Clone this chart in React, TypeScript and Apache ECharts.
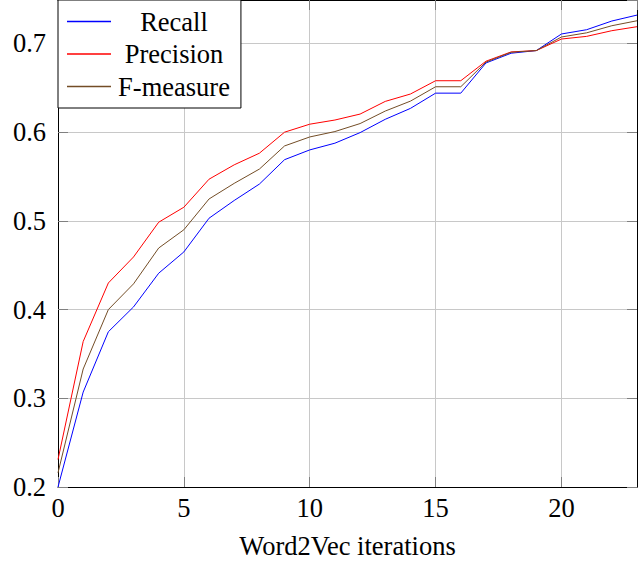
import React, { useEffect, useRef } from "react";
import * as echarts from "echarts";

const iterations = Array.from({ length: 24 }, (_, i) => i);
const recall = [0.2, 0.307, 0.375, 0.403, 0.441, 0.465, 0.503, 0.523, 0.5415, 0.569, 0.58, 0.5876, 0.5995, 0.6145, 0.6268, 0.644, 0.644, 0.678, 0.689, 0.692, 0.7107, 0.7155, 0.7253, 0.732];
const precision = [0.231, 0.364, 0.43, 0.4593, 0.4985, 0.5154, 0.547, 0.5632, 0.5763, 0.6, 0.609, 0.6137, 0.6204, 0.6347, 0.643, 0.658, 0.658, 0.68, 0.6905, 0.692, 0.705, 0.708, 0.7144, 0.7189];
const fmeasure = [0.216, 0.333, 0.4, 0.429, 0.4694, 0.49, 0.5247, 0.5423, 0.5584, 0.5845, 0.5946, 0.6007, 0.6097, 0.6238, 0.635, 0.6512, 0.6512, 0.679, 0.69, 0.692, 0.7073, 0.712, 0.72, 0.7256];
const seriesNames = ["Recall", "Precision", "F-measure"];
const seriesColors = ["#0000ff", "#ff0000", "#734d26"];

const FONT = "Liberation Serif";
const FS = 26.5;

export default function App() {
  const ref = useRef<HTMLDivElement>(null);
  useEffect(() => {
    if (!ref.current) return;
    const chart = echarts.init(ref.current, undefined, { renderer: "svg" });
    const values = [recall, precision, fmeasure];
    const gridColor = "#c8c8c8";
    const tickColor = "#808080";
    const baseX = {
      type: "value" as const,
      min: 0,
      max: 23,
      interval: 5,
      splitLine: { show: false },
      axisLine: { show: true, onZero: false, lineStyle: { color: "#000", width: 1 } },
      axisTick: { show: true, inside: true, length: 10, lineStyle: { color: tickColor, width: 1 } },
    };
    const baseY = {
      type: "value" as const,
      min: 0.2,
      max: 0.749,
      interval: 0.1,
      splitLine: { show: false },
      axisLine: { show: true, onZero: false, lineStyle: { color: "#000", width: 1 } },
      axisTick: { show: true, inside: true, length: 10, lineStyle: { color: tickColor, width: 1 } },
    };
    chart.setOption({
      animation: false,
      backgroundColor: "#fff",
      textStyle: { fontFamily: FONT },
      grid: { left: 58, right: 5, top: 0, bottom: 75, containLabel: false },
      legend: {
        show: true,
        orient: "vertical",
        left: 58,
        top: 0,
        backgroundColor: "#fff",
        borderColor: "#000",
        borderWidth: 1,
        borderRadius: 0,
        padding: [8, 11, 8, 9],
        icon: "rect",
        itemWidth: 44,
        itemHeight: 1.5,
        itemGap: 5.5,
        data: seriesNames.map((n) => ({ name: n })),
        formatter: (name: string) => `{a|${name}}`,
        textStyle: {
          fontFamily: FONT,
          fontSize: FS,
          color: "#000",
          rich: { a: { fontFamily: FONT, fontSize: FS, color: "#000", width: 116, align: "center" } },
        },
      },
      xAxis: [
        {
          ...baseX,
          position: "bottom",
          name: "Word2Vec iterations",
          nameLocation: "middle",
          nameGap: 45,
          nameTextStyle: { fontFamily: FONT, fontSize: FS, color: "#000" },
          splitLine: { show: true, lineStyle: { color: gridColor, width: 1 } },
          axisLabel: { fontFamily: FONT, fontSize: FS, color: "#000", margin: 7, showMaxLabel: false },
        },
        { ...baseX, position: "top", axisLabel: { show: false } },
      ],
      yAxis: [
        {
          ...baseY,
          position: "left",
          splitLine: { show: true, lineStyle: { color: gridColor, width: 1 } },
          axisLabel: { fontFamily: FONT, fontSize: FS, color: "#000", margin: 12, showMaxLabel: false, formatter: (v: number) => v.toFixed(1) },
        },
        { ...baseY, position: "right", axisLabel: { show: false } },
      ],
      series: seriesNames.map((name, k) => ({
        name,
        type: "line",
        xAxisIndex: 0,
        yAxisIndex: 0,
        symbol: "none",
        color: seriesColors[k],
        itemStyle: { color: seriesColors[k] },
        lineStyle: { color: seriesColors[k], width: 1 },
        data: iterations.map((x, i) => [x, values[k][i]]),
      })),
    });
    return () => chart.dispose();
  }, []);
  return <div ref={ref} style={{ position: "fixed", left: 0, top: 0, width: 642, height: 564 }} />;
}
